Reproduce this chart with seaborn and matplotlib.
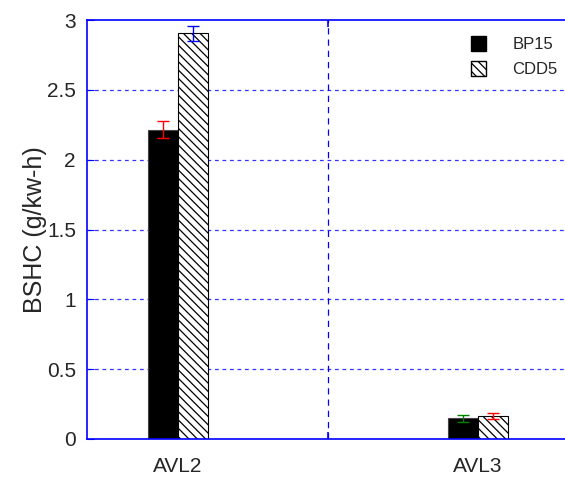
import matplotlib
matplotlib.use("Agg")
import matplotlib.pyplot as plt
from matplotlib.patches import Patch
import seaborn as sns
import pandas as pd

categories = ["AVL2", "AVL3"]
series = ["BP15", "CDD5"]
bp15_vals = [2.215, 0.148]
cdd5_vals = [2.905, 0.165]
bp15_err = [0.062, 0.025]
cdd5_err = [0.055, 0.024]
err_colors = {"BP15": ["#ff0000", "#008000"], "CDD5": ["#0000ff", "#ff0000"]}
yticks = [0, 0.5, 1, 1.5, 2, 2.5, 3]
ytick_labels = ["0", "0.5", "1", "1.5", "2", "2.5", "3"]

df = pd.DataFrame({
    "cat": categories * 2,
    "series": [series[0]] * 2 + [series[1]] * 2,
    "val": bp15_vals + cdd5_vals,
    "err": bp15_err + cdd5_err,
})

sns.set_style("white")
plt.rcParams["font.family"] = ["Liberation Sans", "DejaVu Sans"]
plt.rcParams["hatch.linewidth"] = 0.9

fig = plt.figure(figsize=(5.65, 4.78), dpi=100)
ax = fig.add_axes([87 / 565, 1 - 439 / 478, (565 - 87) / 565, (439 - 20) / 478])

blue = "#0000ff"

# grid
for y in yticks[1:-1]:
    ax.axhline(y, color=blue, lw=0.9, ls=(0, (3, 3)), alpha=0.8, zorder=0)
ax.axvline(0.5, color=blue, lw=0.9, ls=(0, (5, 4)), zorder=0)

sns.barplot(data=df, x="cat", y="val", hue="series", hue_order=series,
            order=categories, palette=["black", "white"], width=0.2,
            errorbar=None, edgecolor="#444444", linewidth=0.8, ax=ax,
            legend=False, zorder=2)
ax.set_ylim(0, 3)
ax.set_xlim(-0.303, -0.303 + 478 / 300)

n = len(categories)
for i, p in enumerate(list(ax.patches)):
    s = series[i // n]
    c = i % n
    if s == "CDD5":
        p.set_hatch("\\\\\\\\")
        p.set_edgecolor("black")
    row = df[(df["series"] == s) & (df["cat"] == categories[c])].iloc[0]
    xc = p.get_x() + p.get_width() / 2
    ax.errorbar(xc, row["val"], yerr=row["err"], color=err_colors[s][c],
                capsize=4, capthick=1, elinewidth=1, zorder=3)

# spines
for side in ["left", "bottom", "top"]:
    ax.spines[side].set_color(blue)
    ax.spines[side].set_linewidth(1.2)
ax.spines["right"].set_visible(False)

ax.set_yticks(yticks)
ax.set_yticklabels(ytick_labels)
ax.tick_params(axis="y", direction="in", length=5, color=blue, labelsize=15,
               pad=8, left=True)
ax.set_xticks(range(len(categories)))
ax.set_xticklabels(categories)
ax.tick_params(axis="x", length=0, labelsize=15, pad=13)
ax.set_xticks([0.5], minor=True)
ax.tick_params(axis="x", which="minor", direction="in", length=5, color=blue,
               bottom=True, top=True, width=1.2)
ax.set_xlabel("")
ax.set_ylabel("BSHC (g/kw-h)", fontsize=18, labelpad=0)

handles = [Patch(facecolor="black", edgecolor="black", label="BP15"),
           Patch(facecolor="white", edgecolor="black", hatch="\\\\\\\\", label="CDD5")]
leg = ax.legend(handles=handles, loc="upper left", bbox_to_anchor=(0.803, 0.962),
                frameon=False, fontsize=12, handlelength=0.9, handleheight=1.0,
                handletextpad=1.6, labelspacing=0.55, borderpad=0,
                borderaxespad=0)

fig.savefig("out.png", dpi=100)
